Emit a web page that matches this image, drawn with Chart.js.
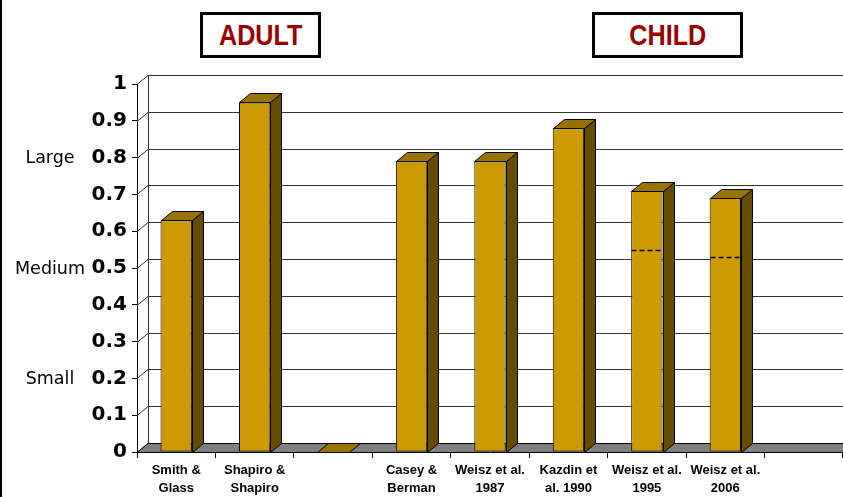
<!DOCTYPE html>
<html>
<head>
<meta charset="utf-8">
<title>Effect sizes: adult vs child</title>
<script src="https://cdn.jsdelivr.net/npm/chart.js@4/dist/chart.umd.min.js"></script>
<style>
    html, body { margin: 0; padding: 0; background: #fff; overflow: hidden; }
    #wrap { position: relative; width: 843px; height: 497px; }
    #effectChart { position: absolute; left: 0; top: 0; }
    .frame-left { position: absolute; left: 0; top: 0; width: 2px; height: 497px; background: #000; }
    .group-box {
        position: absolute; top: 12px; height: 46px; box-sizing: border-box;
        border: 3px solid #000; background: #fff;
        font-family: "Liberation Sans Narrow", "Liberation Sans", Arial, sans-serif;
        font-weight: bold; font-size: 30px; color: #990000;
        display: flex; align-items: center; justify-content: center;
    }
    .group-box span { display: inline-block; transform: scaleX(0.84); }
</style>
</head>
<body>
<div id="wrap">
    <canvas id="effectChart" width="843" height="497"></canvas>
    <div class="frame-left"></div>
    <div class="group-box" style="left:200px; width:121px;"><span>ADULT</span></div>
    <div class="group-box" style="left:592px; width:151px;"><span>CHILD</span></div>
</div>
<script>
/* ==========================================================
   DATA
========================================================== */
const studyLabels = [
    ["Smith &", "Glass"],
    ["Shapiro &", "Shapiro"],
    "",
    ["Casey &", "Berman"],
    ["Weisz et al.", "1987"],
    ["Kazdin et", "al. 1990"],
    ["Weisz et al.", "1995"],
    ["Weisz et al.", "2006"],
    ""
];
const effectSizes = [0.63, 0.95, 0, 0.79, 0.79, 0.88, 0.71, 0.69, null];
// dashed marks drawn across the front of two bars
const dashedMarks = [null, null, null, null, null, null, 0.55, 0.53, null];

const yTicks = [0, 0.1, 0.2, 0.3, 0.4, 0.5, 0.6, 0.7, 0.8, 0.9, 1];
const sizeBands = [
    { value: 0.8, text: "Large" },
    { value: 0.5, text: "Medium" },
    { value: 0.2, text: "Small" }
];

/* ==========================================================
   3D LOOK SETTINGS
========================================================== */
const DEPTH_X = 11;   // how far the back wall sits to the right
const DEPTH_Y = 9;    // and how far up
const FACE_FRONT = "#CC9900";
const FACE_SIDE = "#664C00";
const FACE_TOP = "#997300";

// Back wall, side wall diagonals and grey floor
const wallPlugin = {
    id: "wall3d",
    beforeDatasetsDraw(chart) {
        const { ctx, chartArea } = chart;
        const y = chart.scales.y;
        const left = chartArea.left, right = chart.width + 20;

        ctx.save();
        ctx.strokeStyle = "#333";
        ctx.lineWidth = 1;

        // gridlines on back wall + diagonals to the front axis
        yTicks.forEach(v => {
            const py = Math.round(y.getPixelForValue(v)) + 0.5;
            ctx.beginPath();
            ctx.moveTo(left + DEPTH_X, py - DEPTH_Y);
            ctx.lineTo(right, py - DEPTH_Y);
            ctx.moveTo(left, py);
            ctx.lineTo(left + DEPTH_X, py - DEPTH_Y);
            ctx.stroke();
        });

        // back wall left edge
        const topPx = Math.round(y.getPixelForValue(1)) + 0.5;
        const zeroPx = Math.round(y.getPixelForValue(0)) + 0.5;
        ctx.beginPath();
        ctx.moveTo(left + DEPTH_X + 0.5, topPx - DEPTH_Y);
        ctx.lineTo(left + DEPTH_X + 0.5, zeroPx - DEPTH_Y);
        ctx.stroke();

        // floor
        ctx.fillStyle = "#808080";
        ctx.strokeStyle = "#000";
        ctx.beginPath();
        ctx.moveTo(left, zeroPx);
        ctx.lineTo(right, zeroPx);
        ctx.lineTo(right + DEPTH_X, zeroPx - DEPTH_Y);
        ctx.lineTo(left + DEPTH_X, zeroPx - DEPTH_Y);
        ctx.closePath();
        ctx.fill();
        ctx.stroke();

        // size words left of the value axis
        ctx.fillStyle = "#000";
        ctx.font = "17.5px 'DejaVu Sans', Verdana, sans-serif";
        ctx.textAlign = "center";
        ctx.textBaseline = "middle";
        sizeBands.forEach(b => {
            ctx.fillText(b.text, 50, y.getPixelForValue(b.value) + 1);
        });
        ctx.restore();
    },

    // side and top faces of each bar, then the dashed marks
    afterDatasetsDraw(chart) {
        const { ctx } = chart;
        const meta = chart.getDatasetMeta(0);
        const y = chart.scales.y;

        ctx.save();
        ctx.lineWidth = 1;
        ctx.strokeStyle = "#000";
        ctx.lineJoin = "round";

        meta.data.forEach((bar, i) => {
            if (effectSizes[i] === null) return;
            const x0 = Math.round(bar.x - bar.width / 2) + 0.5;
            const x1 = Math.round(bar.x + bar.width / 2) + 0.5;
            const top = Math.round(bar.y) + 0.5;
            const base = Math.round(bar.base) + 0.5;

            // side
            if (base - top > 0.5) {
                ctx.fillStyle = FACE_SIDE;
                ctx.beginPath();
                ctx.moveTo(x1, top);
                ctx.lineTo(x1 + DEPTH_X, top - DEPTH_Y);
                ctx.lineTo(x1 + DEPTH_X, base - DEPTH_Y);
                ctx.lineTo(x1, base);
                ctx.closePath();
                ctx.fill();
                ctx.stroke();
            }

            // top
            ctx.fillStyle = FACE_TOP;
            ctx.beginPath();
            ctx.moveTo(x0, top);
            ctx.lineTo(x1, top);
            ctx.lineTo(x1 + DEPTH_X, top - DEPTH_Y);
            ctx.lineTo(x0 + DEPTH_X, top - DEPTH_Y);
            ctx.closePath();
            ctx.fill();
            ctx.stroke();

            const mark = dashedMarks[i];
            if (mark !== null) {
                const my = Math.round(y.getPixelForValue(mark)) + 0.5;
                ctx.setLineDash([5, 3]);
                ctx.lineWidth = 1.3;
                ctx.beginPath();
                ctx.moveTo(x0, my);
                ctx.lineTo(x1, my);
                ctx.stroke();
                ctx.setLineDash([]);
                ctx.lineWidth = 1;
            }
        });
        ctx.restore();
    }
};

/* ==========================================================
   CHART
========================================================== */
new Chart(document.getElementById("effectChart"), {
    type: "bar",
    data: {
        labels: studyLabels,
        datasets: [{
            data: effectSizes,
            backgroundColor: FACE_FRONT,
            borderColor: "#000",
            borderWidth: 1,
            borderSkipped: false,
            barPercentage: 0.8,
            categoryPercentage: 0.5
        }]
    },
    options: {
        responsive: false,
        animation: false,
        layout: { padding: { top: 84, right: 0, left: 0, bottom: 0 } },
        plugins: {
            legend: { display: false },
            tooltip: { enabled: false }
        },
        scales: {
            x: {
                offset: true,
                afterFit: s => { s.height = 45; },
                border: { display: false },
                grid: {
                    offset: true,
                    drawOnChartArea: false,
                    tickLength: 6,
                    color: "#000"
                },
                ticks: {
                    padding: 3,
                    maxRotation: 0,
                    autoSkip: false,
                    color: "#000",
                    font: { family: "'Liberation Sans', Arial, sans-serif", weight: "bold", size: 13, lineHeight: 1.4 }
                }
            },
            y: {
                min: 0,
                max: 1,
                afterFit: s => { s.width = 137; },
                afterBuildTicks: s => { s.ticks = yTicks.map(v => ({ value: v })); },
                border: { display: true, color: "#000" },
                grid: {
                    drawOnChartArea: false,
                    tickLength: 5,
                    color: "#000"
                },
                ticks: {
                    padding: 5,
                    color: "#000",
                    callback: v => String(Math.round(v * 10) / 10),
                    font: { family: "'DejaVu Sans', Verdana, sans-serif", weight: "bold", size: 20 }
                }
            }
        }
    },
    plugins: [wallPlugin]
});
</script>
</body>
</html>
